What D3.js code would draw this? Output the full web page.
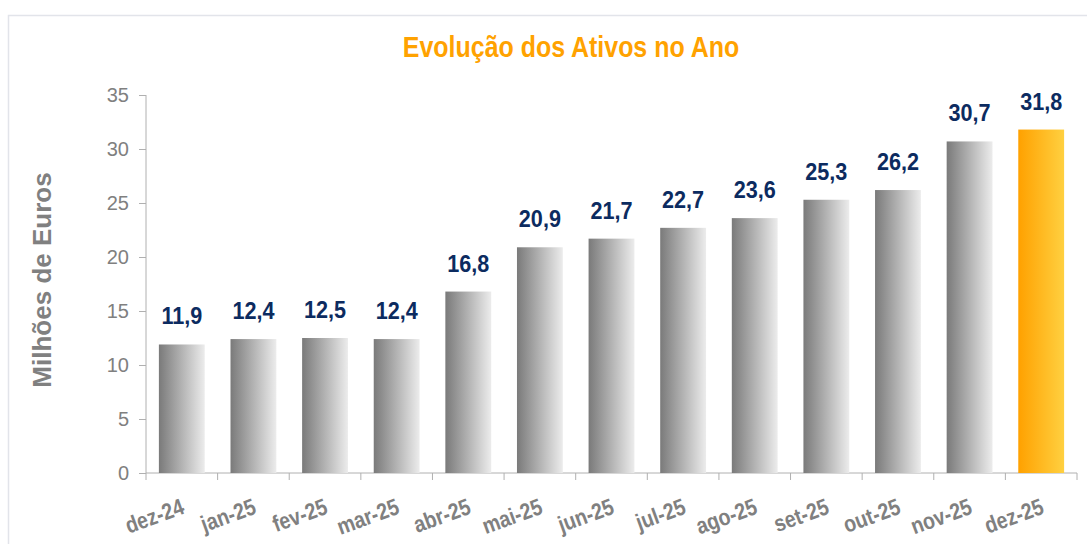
<!DOCTYPE html>
<html>
<head>
<meta charset="utf-8">
<script src="https://cdn.jsdelivr.net/npm/d3@7"></script>
<style>
  body { margin: 0; background: #fff; overflow: hidden; }
  svg { display: block; }
  .narrow { font-family: "Liberation Sans", Arial, sans-serif; font-weight: bold; }
  .axis text { font-family: "Liberation Sans", Arial, sans-serif; }
</style>
</head>
<body>
<div id="chart"></div>
<script>
const months = ["dez-24", "jan-25", "fev-25", "mar-25", "abr-25", "mai-25", "jun-25",
  "jul-25", "ago-25", "set-25", "out-25", "nov-25", "dez-25"]
const assets = [11.9, 12.4, 12.5, 12.4, 16.8, 20.9, 21.7, 22.7, 23.6, 25.3, 26.2, 30.7, 31.8]
const yTicks = [0, 5, 10, 15, 20, 25, 30, 35]
const chartTitle = "Evolução dos Ativos no Ano"
const yTitle = "Milhões de Euros"

var width = 1087
var height = 544
var margin = { left: 146, right: 10, top: 95, bottom: 71 }
var innerWidth = 1077 - margin.left
var innerHeight = 473 - margin.top

// no narrow font installed, so squeeze the bold text horizontally
function narrowText(sel, k) {
  sel.each(function() {
    var len = this.getComputedTextLength()
    d3.select(this)
      .attr("textLength", len * k)
      .attr("lengthAdjust", "spacingAndGlyphs")
  })
}

var dataset = months.map((m, i) => ({ month: m, value: assets[i], last: i === months.length - 1 }))

var svg = d3.select("#chart").append("svg")
  .attr("width", width)
  .attr("height", height)

// gradients for the bars
var defs = svg.append("defs")
var grey = defs.append("linearGradient").attr("id", "grad-grey")
  .attr("x1", "0%").attr("x2", "100%").attr("y1", "0%").attr("y2", "0%")
grey.append("stop").attr("offset", "0%").attr("stop-color", "#7a7a7a")
grey.append("stop").attr("offset", "100%").attr("stop-color", "#ececec")
var orange = defs.append("linearGradient").attr("id", "grad-orange")
  .attr("x1", "0%").attr("x2", "100%").attr("y1", "0%").attr("y2", "0%")
orange.append("stop").attr("offset", "0%").attr("stop-color", "#ffa100")
orange.append("stop").attr("offset", "100%").attr("stop-color", "#ffd040")

// outer frame (only top and left edges are in view)
svg.append("path")
  .attr("d", "M8.5," + height + "V15.5H" + width)
  .attr("fill", "none")
  .attr("stroke", "#e2e4ea")
  .attr("stroke-width", 1.5)

svg.append("text")
  .attr("class", "narrow")
  .attr("x", 571)
  .attr("y", 57)
  .attr("text-anchor", "middle")
  .style("font-size", "29px")
  .attr("fill", "#ffa200")
  .text(chartTitle)
  .call(narrowText, 0.86)

svg.append("text")
  .attr("transform", "translate(51,280) rotate(-90)")
  .attr("text-anchor", "middle")
  .style("font-family", "'Liberation Sans', Arial, sans-serif")
  .style("font-weight", "bold")
  .style("font-size", "26px")
  .attr("fill", "#808080")
  .text(yTitle)

var g = svg.append("g")
  .attr("transform", "translate(" + margin.left + "," + margin.top + ")")

var xScale = d3.scaleBand()
  .domain(months)
  .range([0, innerWidth])
  .paddingInner(0.36)
  .paddingOuter(0.18)

var yScale = d3.scaleLinear()
  .domain([0, 35])
  .range([innerHeight, 0])

var yAxis = d3.axisLeft(yScale)
  .tickValues(yTicks)
  .tickSize(7)
  .tickPadding(10)

var yAxisG = g.append("g").attr("class", "axis").call(yAxis)
yAxisG.select(".domain").attr("stroke", "#b0b0b0").attr("d", "M0," + innerHeight + "V0")
yAxisG.selectAll(".tick line").attr("stroke", "#b0b0b0")
yAxisG.selectAll(".tick text")
  .style("font-size", "20px")
  .attr("fill", "#808080")

// x axis with ticks at band boundaries
var xAxisG = g.append("g").attr("class", "axis")
  .attr("transform", "translate(0," + innerHeight + ")")
xAxisG.append("line")
  .attr("x1", 0).attr("x2", innerWidth)
  .attr("stroke", "#b0b0b0")
xAxisG.selectAll(".xtick")
  .data(d3.range(months.length + 1))
  .enter().append("line")
  .attr("class", "xtick")
  .attr("x1", i => i * xScale.step())
  .attr("x2", i => i * xScale.step())
  .attr("y1", 0).attr("y2", 7)
  .attr("stroke", "#b0b0b0")

xAxisG.selectAll(".xlabel")
  .data(months)
  .enter().append("text")
  .attr("class", "xlabel narrow")
  .attr("text-anchor", "end")
  .attr("transform", d => "translate(" + (xScale(d) + xScale.bandwidth() / 2 + 4) + ",40) rotate(-20)")
  .style("font-size", "23px")
  .attr("fill", "#808080")
  .text(d => d)
  .call(narrowText, 0.85)

g.selectAll(".bar")
  .data(dataset)
  .enter().append("rect")
  .attr("class", "bar")
  .attr("x", d => xScale(d.month))
  .attr("y", d => yScale(d.value))
  .attr("width", xScale.bandwidth())
  .attr("height", d => innerHeight - yScale(d.value))
  .attr("fill", d => d.last ? "url(#grad-orange)" : "url(#grad-grey)")

g.selectAll(".value-label")
  .data(dataset)
  .enter().append("text")
  .attr("class", "value-label narrow")
  .attr("x", d => xScale(d.month) + xScale.bandwidth() / 2)
  .attr("y", d => yScale(d.value) - 20)
  .attr("text-anchor", "middle")
  .style("font-size", "24px")
  .attr("fill", "#0c2b60")
  .text(d => d3.format(".1f")(d.value).replace(".", ","))
  .call(narrowText, 0.9)
</script>
</body>
</html>
